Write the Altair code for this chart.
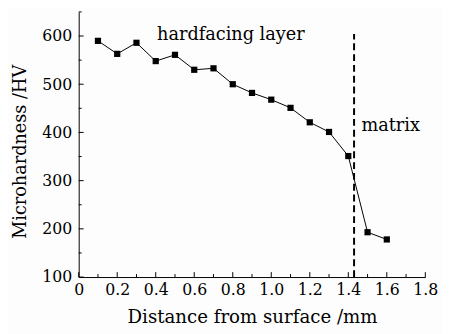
import altair as alt
import pandas as pd

distance = [0.1, 0.2, 0.3, 0.4, 0.5, 0.6, 0.7, 0.8, 0.9, 1.0, 1.1, 1.2, 1.3, 1.4, 1.5, 1.6]
hardness = [590, 563, 586, 548, 561, 530, 533, 500, 482, 468, 451, 421, 401, 351, 193, 178]
boundary = 1.43
x_ticks = [round(i * 0.1, 1) for i in range(0, 19)]
y_ticks = [100 + 50 * i for i in range(0, 12)]
x_labels = [round(i * 0.2, 1) for i in range(10)]
y_labels = [100, 200, 300, 400, 500, 600]
labels = ["hardfacing layer", "matrix"]
label_x = [0.79, 1.62]
label_y = [602, 413]

FONT = "DejaVu Serif"
W, H = 353, 270

df = pd.DataFrame({"d": distance, "h": hardness})
xs = alt.Scale(domain=[0, 1.8], nice=False)
ys = alt.Scale(domain=[100, 650], nice=False)

x_axis = alt.Axis(values=x_labels, ticks=False, grid=False,
                  labelExpr="datum.value == 0 ? '0' : format(datum.value, '.1f')",
                  labelOverlap=False, labelBound=False, labelFlush=False,
                  title="Distance from surface /mm", labelPadding=5, titlePadding=10,
                  titleFontSize=18.5)
y_axis = alt.Axis(values=y_labels, ticks=False, grid=False,
                  labelOverlap=False, labelFlush=False,
                  title="Microhardness /HV", labelPadding=7, titlePadding=13,
                  titleFontSize=18, titleY=H / 2 + 7)


def X(f):
    return alt.X(f, type="quantitative", scale=xs, axis=x_axis)


def Y(f):
    return alt.Y(f, type="quantitative", scale=ys, axis=y_axis)


line = alt.Chart(df).mark_line(color="black", strokeWidth=1).encode(x=X("d"), y=Y("h"))
pts = alt.Chart(df).mark_point(shape="square", filled=True, color="black", size=40, opacity=1).encode(
    x=X("d"), y=Y("h"))

vdf = pd.DataFrame({"x": [boundary], "y1": [100], "y2": [604]})
vline = alt.Chart(vdf).mark_rule(color="black", strokeWidth=2, strokeDash=[7, 4]).encode(
    x=X("x"), y=Y("y1"), y2="y2:Q")

xt = pd.DataFrame({"v": x_ticks, "major": [i % 2 == 0 for i in range(len(x_ticks))]})
xt_major = alt.Chart(xt[xt.major]).mark_rule(color="black", strokeWidth=1).encode(
    x=X("v"), y=alt.value(H), y2=alt.value(H - 5))
xt_minor = alt.Chart(xt[~xt.major]).mark_rule(color="black", strokeWidth=1).encode(
    x=X("v"), y=alt.value(H), y2=alt.value(H - 3))

yt = pd.DataFrame({"v": y_ticks, "major": [i % 2 == 0 for i in range(len(y_ticks))]})
yt_major = alt.Chart(yt[yt.major]).mark_rule(color="black", strokeWidth=1).encode(
    y=Y("v"), x=alt.value(0), x2=alt.value(5))
yt_minor = alt.Chart(yt[~yt.major]).mark_rule(color="black", strokeWidth=1).encode(
    y=Y("v"), x=alt.value(0), x2=alt.value(3))

tdf = pd.DataFrame({"t": labels, "x": label_x, "y": label_y})
text = alt.Chart(tdf).mark_text(font=FONT, fontSize=18, color="black", align="center", baseline="middle").encode(
    x=X("x"), y=Y("y"), text="t:N")

chart = alt.layer(line, pts, vline, xt_major, xt_minor, yt_major, yt_minor, text).properties(
    width=W, height=H,
    autosize=alt.AutoSizeParams(type="none"),
    padding={"left": 72, "top": 1, "right": 18, "bottom": 55},
    background="#fdfdfd",
).configure_view(stroke=None).configure_axis(
    domainColor="black", domainWidth=1, labelFont=FONT, titleFont=FONT,
    labelFontSize=16, labelColor="black", titleColor="black",
    titleFontWeight="normal", labelOverlap=False,
)

chart.save("out.html", embed_options={"renderer": "svg", "actions": False})
